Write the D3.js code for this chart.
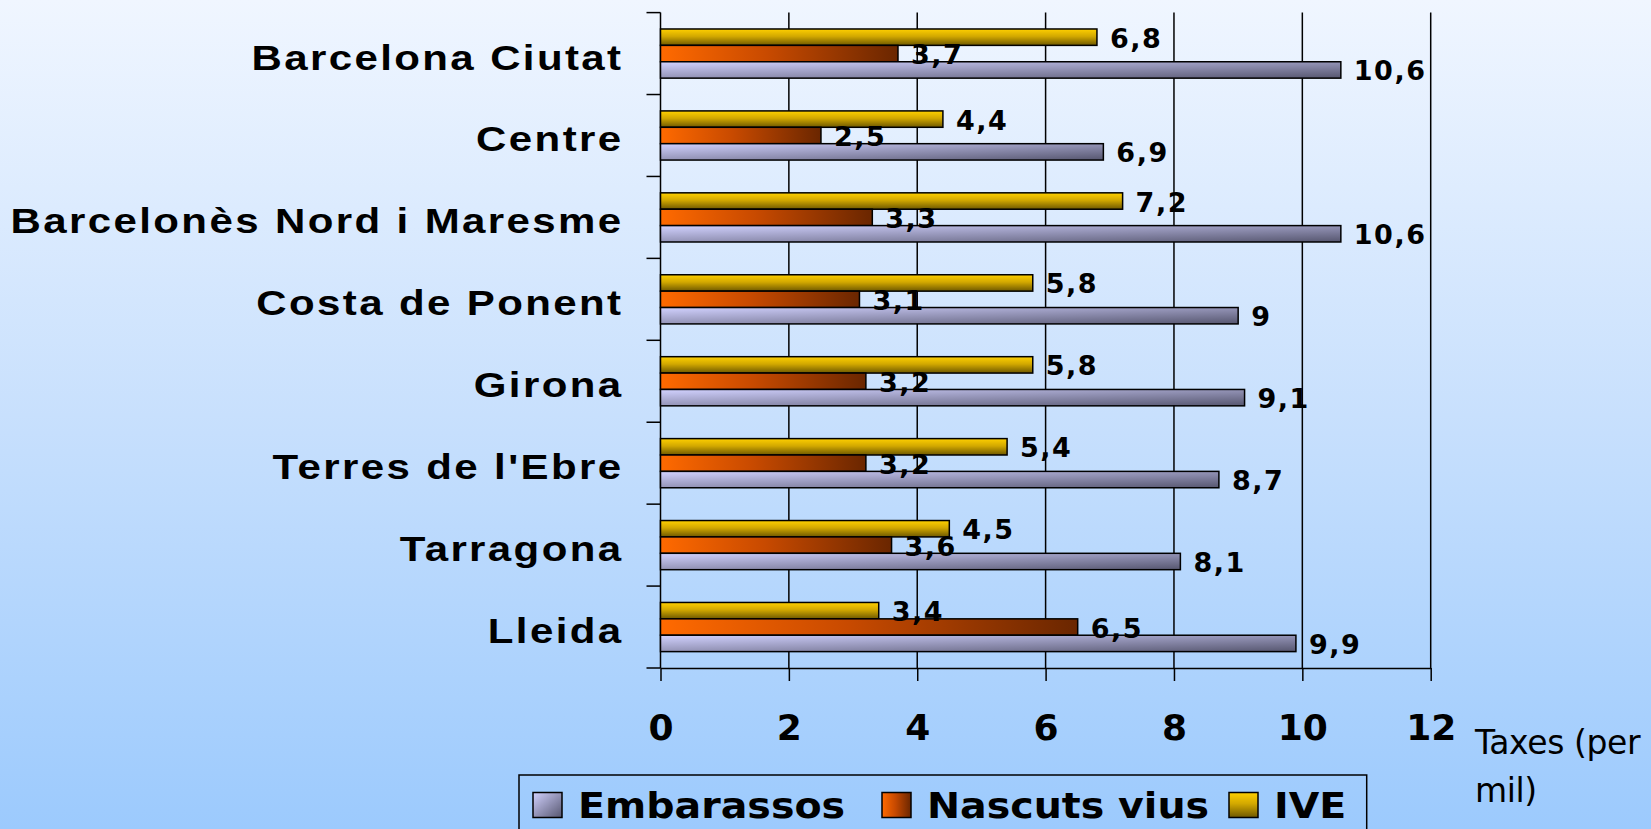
<!DOCTYPE html>
<meta charset="utf-8">
<script src="https://d3js.org/d3.v7.min.js"></script>
<style>
  body { margin: 0; overflow: hidden; }
</style>
<div id="chart"></div>
<script>
// data
var categories = ["Barcelona Ciutat", "Centre", "Barcelonès Nord i Maresme", "Costa de Ponent",
                  "Girona", "Terres de l'Ebre", "Tarragona", "Lleida"];
var embarassos  = [10.6, 6.9, 10.6, 9, 9.1, 8.7, 8.1, 9.9];
var nascutsVius = [3.7, 2.5, 3.3, 3.1, 3.2, 3.2, 3.6, 6.5];
var ive         = [6.8, 4.4, 7.2, 5.8, 5.8, 5.4, 4.5, 3.4];
var seriesNames = ["Embarassos", "Nascuts vius", "IVE"];
var xTicks = [0, 2, 4, 6, 8, 10, 12];
var axisTitle = ["Taxes (per", "mil)"];

var W = 1651, H = 829;
var plot = {left: 660.5, right: 1430.7, top: 12.6, bottom: 668};

var svg = d3.select("#chart").append("svg")
    .attr("width", W)
    .attr("height", H);

// gradients
var defs = svg.append("defs");
function grad(id, x2, y2, stops) {
  var g = defs.append("linearGradient").attr("id", id)
      .attr("x1", 0).attr("y1", 0).attr("x2", x2).attr("y2", y2);
  stops.forEach(function(s) {
    g.append("stop").attr("offset", s[0]).attr("stop-color", s[1]);
  });
}
grad("bg", 0, 1, [[0, "#f0f6ff"], [0.5, "#c8e0fd"], [1, "#9ccafd"]]);
grad("g-emb", 1, 1, [[0, "#d2d2ff"], [1, "#56566f"]]);
grad("g-nas", 1, 0, [[0, "#ff6a00"], [0.45, "#c84a00"], [1, "#6a2600"]]);
grad("g-ive", 0, 1, [[0, "#ffd000"], [0.45, "#d2a800"], [1, "#6e5800"]]);
var fills = {"Embarassos": "url(#g-emb)", "Nascuts vius": "url(#g-nas)", "IVE": "url(#g-ive)"};
var values = {"Embarassos": embarassos, "Nascuts vius": nascutsVius, "IVE": ive};

svg.append("rect").attr("width", W).attr("height", H).attr("fill", "url(#bg)");

// scales
var x = d3.scaleLinear().domain([0, 12]).range([plot.left, plot.right]);
var y = d3.scaleBand().domain(categories)
    .range([plot.top, plot.bottom])
    .paddingInner(0.4).paddingOuter(0.2);
var sub = d3.scaleBand().domain(["IVE", "Nascuts vius", "Embarassos"])
    .range([0, y.bandwidth()]);

// vertical grid lines
svg.append("g").selectAll("line")
  .data(xTicks.slice(1))
  .enter().append("line")
    .attr("x1", function(d) { return x(d); })
    .attr("x2", function(d) { return x(d); })
    .attr("y1", plot.top)
    .attr("y2", plot.bottom)
    .attr("stroke", "#000")
    .attr("stroke-width", 1.5);

// x axis
var xAxis = svg.append("g")
    .attr("transform", "translate(0," + plot.bottom + ")")
    .call(d3.axisBottom(x).tickValues(xTicks).tickSizeInner(13).tickSizeOuter(0).tickPadding(33)
      .tickFormat(function(d) { return d; }));
xAxis.selectAll("line, path").attr("stroke", "#000").attr("stroke-width", 1.5);
xAxis.selectAll("text")
    .attr("fill", "#000")
    .style("font-family", "'DejaVu Sans'")
    .style("font-weight", "bold")
    .style("font-size", "36px");

// y axis: line plus ticks at category boundaries
var half = y.step() * y.paddingInner() / 2;
var bounds = categories.map(function(c) { return y(c) - half; });
bounds.push(y(categories[categories.length - 1]) + y.bandwidth() + half);
svg.append("line")
    .attr("x1", x(0)).attr("x2", x(0))
    .attr("y1", plot.top).attr("y2", plot.bottom)
    .attr("stroke", "#000").attr("stroke-width", 1.5);
svg.append("g").selectAll("line")
  .data(bounds)
  .enter().append("line")
    .attr("x1", x(0) - 14).attr("x2", x(0))
    .attr("y1", function(d) { return d; })
    .attr("y2", function(d) { return d; })
    .attr("stroke", "#000").attr("stroke-width", 1.5);

// category labels (the original text is drawn a bit wide)
svg.append("g").selectAll("text")
  .data(categories)
  .enter().append("text")
    .attr("transform", function(d) {
      return "translate(" + (x(0) - 37) + "," + (y(d) + y.bandwidth() / 2 + 16) + ") scale(1.2,1)";
    })
    .attr("text-anchor", "end")
    .style("font-family", "'Liberation Sans', Arial, sans-serif")
    .style("font-weight", "bold")
    .style("font-size", "35px")
    .style("letter-spacing", "2px")
    .text(function(d) { return d; });

// bars
var rows = [];
categories.forEach(function(c, i) {
  ["IVE", "Nascuts vius", "Embarassos"].forEach(function(s) {
    rows.push({cat: c, series: s, value: values[s][i]});
  });
});

svg.append("g").selectAll("rect")
  .data(rows)
  .enter().append("rect")
    .attr("x", x(0))
    .attr("y", function(d) { return y(d.cat) + sub(d.series); })
    .attr("width", function(d) { return x(d.value) - x(0); })
    .attr("height", sub.bandwidth())
    .attr("fill", function(d) { return fills[d.series]; })
    .attr("stroke", "#000")
    .attr("stroke-width", 1.5);

// value labels
svg.append("g").selectAll("text")
  .data(rows)
  .enter().append("text")
    .attr("x", function(d) { return x(d.value) + 13; })
    .attr("y", function(d) { return y(d.cat) + sub(d.series) + sub.bandwidth() / 2 + 10.5; })
    .style("font-family", "'DejaVu Sans'")
    .style("font-weight", "bold")
    .style("font-size", "27px")
    .style("letter-spacing", "1.5px")
    .text(function(d) { return String(d.value).replace(".", ","); });

// axis title
svg.append("g").selectAll("text")
  .data(axisTitle)
  .enter().append("text")
    .attr("x", 1475)
    .attr("y", function(d, i) { return 754 + i * 48; })
    .style("font-family", "'DejaVu Sans'")
    .style("font-size", "33px")
    .style("letter-spacing", "-0.4px")
    .text(function(d) { return d; });

// legend
var legendX = [533, 882, 1229];
var legend = svg.append("g");
legend.append("rect")
    .attr("x", 519).attr("y", 775)
    .attr("width", 1366.7 - 519).attr("height", 80)
    .attr("fill", "none").attr("stroke", "#000").attr("stroke-width", 1.5);
var item = legend.selectAll("g")
  .data(seriesNames)
  .enter().append("g")
    .attr("transform", function(d, i) { return "translate(" + legendX[i] + ",792.5)"; });
item.append("rect")
    .attr("width", 29).attr("height", 25)
    .attr("fill", function(d) { return fills[d]; })
    .attr("stroke", "#000").attr("stroke-width", 1.5);
item.append("text")
    .attr("transform", "translate(45,25) scale(1.13,1)")
    .style("font-family", "'DejaVu Sans'")
    .style("font-weight", "bold")
    .style("font-size", "35px")
    .text(function(d) { return d; });
</script>
